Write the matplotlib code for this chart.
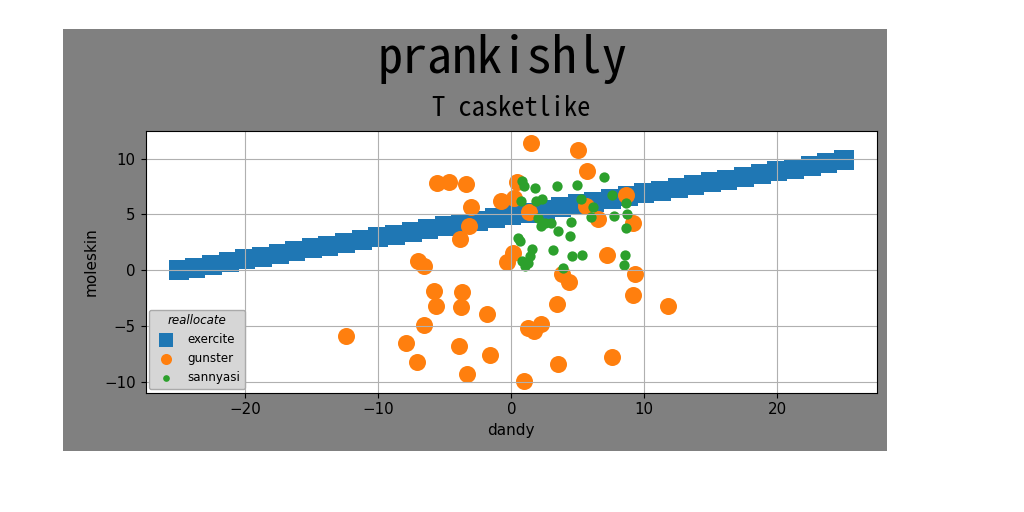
import matplotlib
matplotlib.use("Agg")
import matplotlib.pyplot as plt
from matplotlib.patches import Rectangle

# ---- data ----
exercite_x = [-25.0, -23.75, -22.5, -21.25, -20.0, -18.75, -17.5, -16.25, -15.0, -13.75,
              -12.5, -11.25, -10.0, -8.75, -7.5, -6.25, -5.0, -3.75, -2.5, -1.25,
              0.0, 1.25, 2.5, 3.75, 5.0, 6.25, 7.5, 8.75, 10.0, 11.25,
              12.5, 13.75, 15.0, 16.25, 17.5, 18.75, 20.0, 21.25, 22.5, 23.75, 25.0]
exercite_y = [-0.03, 0.22, 0.47, 0.71, 0.96, 1.21, 1.45, 1.70, 1.95, 2.19,
              2.44, 2.68, 2.93, 3.18, 3.42, 3.67, 3.92, 4.16, 4.41, 4.65,
              4.90, 5.15, 5.39, 5.64, 5.89, 6.13, 6.38, 6.62, 6.87, 7.12,
              7.36, 7.61, 7.86, 8.10, 8.35, 8.59, 8.84, 9.09, 9.33, 9.58, 9.83]

gunster_x = [1.49, 5.03, 5.66, -5.57, -4.71, -3.43, 0.41, -0.80, 0.20, -3.02,
             1.35, 5.63, 8.66, 6.55, 9.19, -3.14, -3.88, 0.12, -0.32, -6.98,
             -6.59, 7.17, 3.80, 4.32, 9.32, -5.82, -3.68, -5.68, -3.77, -1.83,
             3.42, 9.18, 11.75, -6.53, 1.26, 2.25, 1.73, -7.88, -3.95, -7.07,
             -1.60, 3.50, 7.55, -3.29, 0.94, -12.46]
gunster_y = [11.43, 10.79, 8.91, 7.84, 7.90, 7.75, 7.92, 6.23, 6.43, 5.61,
             5.25, 5.78, 6.69, 4.58, 4.19, 3.94, 2.81, 1.54, 0.73, 0.77,
             0.33, 1.35, -0.36, -1.09, -0.34, -1.90, -1.95, -3.25, -3.29, -3.97,
             -3.06, -2.20, -3.18, -4.97, -5.19, -4.88, -5.49, -6.58, -6.83, -8.21,
             -7.64, -8.44, -7.76, -9.35, -9.99, -5.92]

sannyasi_x = [0.80, 0.94, 1.82, 3.44, 4.95, 6.95, 0.71, 1.84, 2.33, 5.22,
              7.59, 8.61, 6.11, 1.98, 2.50, 3.00, 2.25, 3.50, 4.39, 4.50,
              6.00, 7.75, 8.74, 8.64, 0.50, 0.63, 1.53, 3.15, 1.41, 0.79,
              1.28, 4.54, 5.29, 8.55, 8.44, 3.92, 1.05]
sannyasi_y = [7.95, 7.50, 7.38, 7.50, 7.65, 8.38, 6.15, 6.18, 6.40, 6.39,
              6.74, 6.02, 5.67, 4.69, 4.25, 4.26, 3.95, 3.52, 3.09, 4.34,
              4.77, 4.81, 5.03, 3.78, 2.87, 2.57, 1.90, 1.81, 1.24, 0.77,
              0.67, 1.24, 1.31, 1.38, 0.48, 0.15, 0.32]

series_names = ["exercite", "gunster", "sannyasi"]
fig_title = "prankishly"
ax_title = "T casketlike"
x_label = "dandy"
y_label = "moleskin"
legend_title = "reallocate"

mono = ["Noto Sans Mono CJK SC", "DejaVu Sans Mono"]

fig = plt.figure(figsize=(10.24, 5.12), dpi=100, facecolor="white")
W, H = 1024.0, 512.0
bg = Rectangle((63 / W, 1 - 451 / H), (887 - 63) / W, (451 - 29) / H,
               transform=fig.transFigure, facecolor="#808080",
               edgecolor="none", zorder=-10)
fig.patches.append(bg)

ax = fig.add_axes([145.5 / W, 1 - 392.7 / H, 731.5 / W, 261.7 / H])
ax.set_zorder(1)
ax.set_facecolor("white")

ax.scatter(exercite_x, exercite_y, marker="s", s=210, color="#1f77b4",
           label=series_names[0], linewidths=0)
ax.scatter(gunster_x, gunster_y, marker="o", s=150, color="#ff7f0e",
           label=series_names[1], linewidths=0)
ax.scatter(sannyasi_x, sannyasi_y, marker="o", s=55, color="#2ca02c",
           label=series_names[2], linewidths=0)

ax.set_xlim(-27.5, 27.5)
ax.set_ylim(-11.0, 12.47)
ax.set_xticks([-20, -10, 0, 10, 20])
ax.set_yticks([-10, -5, 0, 5, 10])
ax.grid(True, color="#b0b0b0", linewidth=0.8)
ax.tick_params(labelsize=10.8)

ax.set_xlabel(x_label, fontsize=11)
ax.set_ylabel(y_label, fontsize=11)

ax.set_title(ax_title, family=mono, fontsize=19, pad=11)
fig.text(502 / W, 1 - 73 / H, fig_title, family=mono, fontsize=36,
         ha="center", va="baseline", zorder=2)

leg = ax.legend(loc="lower left", title=legend_title, fontsize=8.6,
                title_fontsize=8.6, markerscale=0.65,
                facecolor="#d6d6d6", edgecolor="#aaaaaa", framealpha=1.0,
                borderaxespad=0.3)
leg.get_title().set_fontstyle("italic")

fig.savefig("out.png", dpi=100, facecolor="white")
